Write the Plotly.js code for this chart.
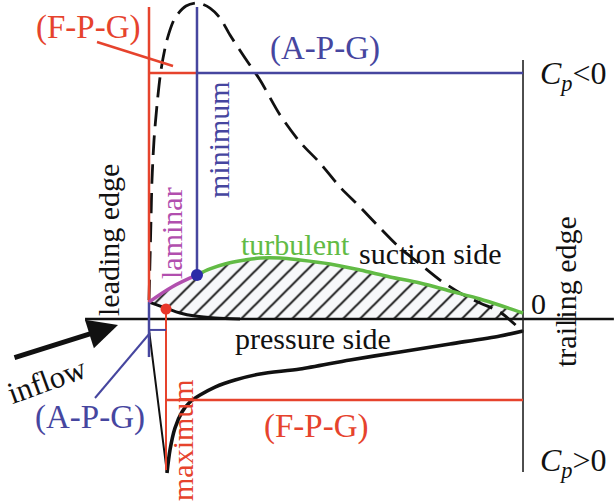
<!DOCTYPE html>
<html>
<head>
<meta charset="utf-8">
<script src="https://cdn.plot.ly/plotly-3.0.1.min.js"></script>
<style>
  html, body { margin: 0; padding: 0; background: #ffffff; }
  #chart { width: 614px; height: 504px; }
</style>
</head>
<body>
<div id="chart"></div>
<script>
// Frame: x = chord position x/c (0 leading edge, 1 trailing edge),
// y = pressure coefficient Cp (negative values drawn upward).

// Suction-side Cp distribution (dashed)
const suctionX  = [0, 0.0027, 0.0053, 0.008, 0.0134, 0.0214, 0.0321, 0.0481, 0.0695, 0.0989,
                   0.131, 0.1631, 0.1898, 0.2166, 0.2567, 0.2968, 0.3503, 0.4037, 0.4572, 0.5107,
                   0.5642, 0.6176, 0.6711, 0.7246, 0.7781, 0.8316, 0.885, 0.9385, 1.0];
const suctionCp = [-0.123, -0.383, -0.643, -0.903, -1.162, -1.39, -1.617, -1.812, -1.955, -2.032,
                   -2.052, -2.019, -1.955, -1.844, -1.695, -1.552, -1.325, -1.149, -1.013, -0.857,
                   -0.727, -0.591, -0.461, -0.357, -0.253, -0.169, -0.104, -0.045, 0.084];

// Pressure-side Cp: drop to the stagnation maximum, then recovery
const stagnationX  = [0, 0, 0.0481];
const stagnationCp = [-0.104, 0.071, 1.0];
const pressureX  = [0.0481, 0.0561, 0.0695, 0.0882, 0.1096, 0.1364, 0.1765, 0.2299, 0.2968,
                    0.4037, 0.5374, 0.6711, 0.8048, 0.9385, 1.0];
const pressureCp = [1.0, 0.851, 0.708, 0.604, 0.539, 0.494, 0.442, 0.396, 0.357,
                    0.325, 0.266, 0.214, 0.162, 0.11, 0.078];

// Airfoil contour: laminar and turbulent parts of the upper surface, lower surface
const laminarX = [0, 0.0615, 0.1283];
const laminarY = [-0.110, -0.208, -0.286];
const turbulentX = [0.1283, 0.1631, 0.2032, 0.2567, 0.2968, 0.3503, 0.4037, 0.484, 0.5642,
                    0.6444, 0.7246, 0.8048, 0.885, 0.9519, 1.0];
const turbulentY = [-0.286, -0.325, -0.357, -0.383, -0.396, -0.396, -0.383, -0.357, -0.318,
                    -0.273, -0.234, -0.182, -0.13, -0.078, -0.039];
const lowerX = [0, 0.0455, 0.0829, 0.123, 0.1765, 0.2433, 1.0];
const lowerY = [-0.110, -0.071, -0.039, -0.019, -0.006, 0, 0];

// Characteristic stations and Cp levels
const xLeading = 0, xTrailing = 1;
const xSuctionMin = 0.1283, xPressureMax = 0.0455;
const xAxisStart = -0.171, xAxisEnd = 1.243;
const cpTop = -2.026, cpNose = -0.110;
const cpSuctionLevel = -1.597, cpPressureLevel = 0.526;
const cpTrailTop = -1.682, cpTrailBottom = 0.994;
const cpMaxDot = -0.065, cpMaxLineEnd = 0.981;
const cpApgTick = 0.071, cpApgEnd = 0.247;

const RED = '#e6432d', BLUE = '#46469f', GREEN = '#62bb45', PURPLE = '#b14fae', BLACK = '#111111';
const FONT = '"Liberation Serif", "Times New Roman", Times, serif';

function seg(x0, y0, x1, y1, color, width) {
  return { type: 'scatter', mode: 'lines', x: [x0, x1], y: [y0, y1],
           line: { color: color, width: width }, hoverinfo: 'skip' };
}

const hatchX = laminarX.concat(turbulentX.slice(1), lowerX.slice().reverse());
const hatchY = laminarY.concat(turbulentY.slice(1), lowerY.slice().reverse());

const traces = [
  { type: 'scatter', mode: 'none', x: hatchX, y: hatchY, fill: 'toself',
    fillcolor: '#f7f8fa',
    fillpattern: { shape: '/', size: 12, solidity: 0.16, fgcolor: '#111', bgcolor: '#f7f8fa', fillmode: 'replace' },
    hoverinfo: 'skip' },
  seg(xAxisStart, 0, xAxisEnd, 0, BLACK, 2.5),
  { type: 'scatter', mode: 'lines', x: lowerX.slice(0, 6), y: lowerY.slice(0, 6),
    line: { color: BLACK, width: 3, shape: 'spline' }, hoverinfo: 'skip' },
  { type: 'scatter', mode: 'lines', x: suctionX, y: suctionCp,
    line: { color: BLACK, width: 2.8, dash: '20px,9px', shape: 'spline', smoothing: 0.8 }, hoverinfo: 'skip' },
  { type: 'scatter', mode: 'lines', x: stagnationX, y: stagnationCp,
    line: { color: BLACK, width: 2 }, hoverinfo: 'skip' },
  { type: 'scatter', mode: 'lines', x: pressureX, y: pressureCp,
    line: { color: BLACK, width: 3.6, shape: 'spline', smoothing: 0.8 }, hoverinfo: 'skip' },
  seg(xTrailing, cpTrailTop, xTrailing, cpTrailBottom, '#222', 1.6),
  // favourable pressure gradient markers
  seg(xLeading, cpTop, xLeading, cpNose, RED, 2.5),
  seg(xLeading, cpSuctionLevel, xSuctionMin, cpSuctionLevel, RED, 2.5),
  seg(xPressureMax, cpMaxDot, xPressureMax, cpMaxLineEnd, RED, 2),
  seg(xPressureMax, cpPressureLevel, xTrailing, cpPressureLevel, RED, 2.5),
  // adverse pressure gradient markers
  seg(xSuctionMin, cpTop, xSuctionMin, laminarY[2], BLUE, 2.5),
  seg(xSuctionMin, cpSuctionLevel, xTrailing, cpSuctionLevel, BLUE, 2.5),
  seg(xLeading, cpNose, xLeading, cpApgEnd, BLUE, 2.5),
  seg(xLeading, cpApgTick, xPressureMax, cpApgTick, BLUE, 2),
  // boundary-layer state along the upper surface
  { type: 'scatter', mode: 'lines', x: laminarX, y: laminarY,
    line: { color: PURPLE, width: 3.5, shape: 'spline' }, hoverinfo: 'skip' },
  { type: 'scatter', mode: 'lines', x: turbulentX, y: turbulentY,
    line: { color: GREEN, width: 3.5, shape: 'spline' }, hoverinfo: 'skip' },
  { type: 'scatter', mode: 'markers', x: [xSuctionMin], y: [laminarY[2]],
    marker: { color: '#2b2ba8', size: 12 }, hoverinfo: 'skip' },
  { type: 'scatter', mode: 'markers', x: [xPressureMax], y: [cpMaxDot],
    marker: { color: '#e8362a', size: 11 }, hoverinfo: 'skip' }
];

const W = 614, H = 504;
function label(text, px, py, color, angle, size) {
  return { text: text, x: px / W, y: 1 - py / H, xref: 'paper', yref: 'paper',
           showarrow: false, xanchor: 'center', yanchor: 'middle', textangle: angle || 0,
           font: { family: FONT, size: size || 30, color: color } };
}

const annotations = [
  label('(F-P-G)', 88, 27, RED, 0, 33),
  label('(A-P-G)', 325, 49, BLUE, 0, 33),
  label('<i>C</i><sub><i>p</i></sub>&lt;0', 573, 75, BLACK, 0, 32),
  label('minimum', 218, 140, BLUE, -90),
  label('laminar', 171, 233, PURPLE, -90),
  label('leading edge', 108, 240, BLACK, -90),
  label('turbulent', 295, 244, GREEN),
  label('suction side', 430, 253, BLACK),
  label('0', 538, 303, BLACK),
  label('trailing edge', 565, 292, BLACK, -90),
  label('pressure side', 313, 338, BLACK),
  label('inflow', 47, 380, BLACK, -20, 31),
  label('(A-P-G)', 90, 417, BLUE, 0, 33),
  label('(F-P-G)', 316, 426, RED, 0, 33),
  label('maximum', 182, 440, RED, -90),
  label('<i>C</i><sub><i>p</i></sub>&gt;0', 573, 462, BLACK, 0, 32),
  { text: '', x: 118 / W, y: 1 - 325 / H, xref: 'paper', yref: 'paper',
    showarrow: true, ax: -105, ay: 33, arrowhead: 2, arrowsize: 1.2, arrowwidth: 5,
    arrowcolor: BLACK, standoff: 0 }
];

const shapes = [
  { type: 'line', xref: 'paper', yref: 'paper', x0: 97 / W, y0: 1 - 42 / H, x1: 173 / W, y1: 1 - 66 / H,
    line: { color: RED, width: 2.5 } },
  { type: 'line', xref: 'paper', yref: 'paper', x0: 95 / W, y0: 1 - 398 / H, x1: 150 / W, y1: 1 - 333 / H,
    line: { color: BLUE, width: 2 } }
];

const layout = {
  width: W, height: H,
  margin: { l: 0, r: 0, t: 0, b: 0, pad: 0 },
  paper_bgcolor: '#ffffff', plot_bgcolor: '#ffffff',
  showlegend: false,
  font: { family: FONT },
  xaxis: { range: [-0.3984, 1.2433], visible: false, fixedrange: true },
  yaxis: { range: [1.2013, -2.0714], visible: false, fixedrange: true },
  annotations: annotations,
  shapes: shapes
};

Plotly.newPlot('chart', traces, layout, { staticPlot: true, displayModeBar: false });
</script>
</body>
</html>
